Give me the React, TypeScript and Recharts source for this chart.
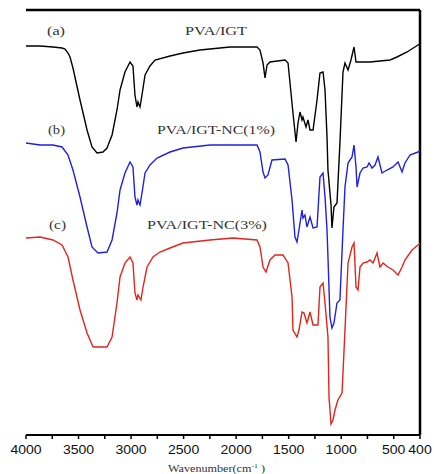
import React from "react";
import { LineChart, Line, XAxis, YAxis, ReferenceLine } from "recharts";

// wavenumber (cm-1) and transmittance (arbitrary units)
const wnA = [4000,3867,3743,3657,3629,3600,3581,3553,3486,3419,3372,3324,3267,3229,3181,3134,3105,3058,3010,2982,2963,2944,2934,2915,2896,2867,2820,2772,2629,2506,2344,2058,1801,1773,1744,1725,1706,1678,1535,1506,1459,1430,1411,1392,1373,1364,1335,1316,1297,1268,1230,1202,1173,1154,1135,1126,1097,1088,1069,1040,1012,983,964,935,907,878,859,821,726,535,469,373,269,250];
const tA = [389,389,388,387,386,382,378,367,335,305,288,282,283,287,300,325,345,363,373,369,340,328,333,328,340,360,369,375,379,382,385,388,388,385,372,357,370,373,375,372,322,293,312,323,315,318,308,315,305,305,335,362,363,345,298,265,230,207,228,232,292,363,372,365,375,388,373,373,373,375,378,383,390,391];

const wnB = [4000,3867,3743,3657,3600,3553,3486,3419,3372,3315,3229,3181,3134,3105,3058,3010,2982,2963,2944,2934,2915,2896,2867,2820,2753,2629,2506,2249,1801,1773,1744,1725,1697,1659,1535,1506,1468,1440,1421,1402,1373,1364,1345,1326,1297,1268,1230,1202,1173,1154,1135,1126,1107,1088,1069,1040,1012,983,964,935,897,878,859,849,821,792,754,735,707,678,650,612,564,507,459,421,393,345,269,250];
const tB = [292,290,290,288,280,265,238,208,188,182,183,195,222,245,262,273,268,238,230,235,230,242,262,270,277,283,287,290,290,283,263,257,260,275,276,270,235,198,193,205,225,217,220,208,218,207,208,258,262,238,205,178,118,107,112,132,135,205,248,272,278,290,268,248,262,267,268,272,267,270,278,262,265,268,273,263,272,280,283,284];

const wnC = [4000,3867,3743,3657,3600,3553,3486,3419,3362,3267,3229,3181,3134,3105,3058,3010,2982,2963,2944,2934,2906,2886,2848,2791,2725,2629,2506,2249,2030,1801,1773,1744,1716,1678,1630,1554,1506,1468,1459,1421,1402,1373,1354,1326,1297,1268,1221,1202,1173,1154,1126,1116,1097,1078,1059,1031,992,964,935,897,878,859,840,821,792,754,726,697,659,631,602,555,507,459,421,393,326,269,250];
const tC = [197,198,195,190,178,155,125,102,88,88,88,98,132,158,172,178,172,142,135,140,135,148,168,178,183,187,192,195,197,195,188,168,163,175,180,180,172,138,105,98,105,123,122,112,123,110,110,148,152,132,98,38,11,15,25,35,42,105,172,188,192,148,145,168,172,173,175,172,182,168,172,168,165,160,168,175,185,190,191];

const xTicks = [4000,3750,3500,3250,3000,2750,2500,2250,2000,1750,1500,1250,1000,750,500,250];
const tickLabels: Record<number, string> = {
  4000: "4000", 3500: "3500", 3000: "3000", 2500: "2500", 2000: "2000",
  1500: "1500", 1000: "1000", 500: "500", 250: "400",
};
const xDomain = [250, 4000];
const yDomain = [0, 425];

const toRows = (wn: number[], t: number[]) => wn.map((w, i) => ({ wn: w, t: t[i] }));
const dataA = toRows(wnA, tA);
const dataB = toRows(wnB, tB);
const dataC = toRows(wnC, tC);

const serif = "'Liberation Serif', 'Times New Roman', serif";

function WaveTick(props: any) {
  const { x, y, payload } = props;
  const label = tickLabels[payload.value];
  if (!label) return null;
  return (
    <text x={x} y={y + 13} textAnchor="middle" fontFamily="'Liberation Sans', Arial, sans-serif"
      fontSize={13} fill="#111" textLength={label.length * 7.8} lengthAdjust="spacingAndGlyphs">
      {label}
    </text>
  );
}

export default function App() {
  return (
    <div style={{ position: "absolute", left: 0, top: 0, width: 434, height: 474, background: "#fff" }}>
      <LineChart width={434} height={474} margin={{ top: 10, right: 14, left: 26, bottom: 9 }}>
        <XAxis dataKey="wn" type="number" domain={xDomain} reversed ticks={xTicks} interval={0}
          allowDataOverflow height={30} tickSize={4} tick={<WaveTick />}
          axisLine={{ stroke: "#000", strokeWidth: 2 }} tickLine={{ stroke: "#000", strokeWidth: 1.5 }} />
        <YAxis type="number" domain={yDomain} width={0} tick={false} tickLine={false}
          axisLine={{ stroke: "#000", strokeWidth: 2 }} />
        {/* frame: top and right borders */}
        <ReferenceLine y={yDomain[1]} stroke="#000" strokeWidth={2.5} ifOverflow="visible" />
        <ReferenceLine x={xDomain[0]} stroke="#000" strokeWidth={2.5} ifOverflow="visible" />
        <Line data={dataA} dataKey="t" stroke="#000000" strokeWidth={1.4} dot={false} isAnimationActive={false} />
        <Line data={dataB} dataKey="t" stroke="#2020e0" strokeWidth={1.4} dot={false} isAnimationActive={false} />
        <Line data={dataC} dataKey="t" stroke="#e0261c" strokeWidth={1.4} dot={false} isAnimationActive={false} />
      </LineChart>
      <svg width={434} height={474} style={{ position: "absolute", left: 0, top: 0, pointerEvents: "none" }}>
        <g fontFamily={serif} fontSize={13} fill="#333">
          <text x={47} y={35} textLength={18} lengthAdjust="spacingAndGlyphs">(a)</text>
          <text x={185} y={35} textLength={62} lengthAdjust="spacingAndGlyphs">PVA/IGT</text>
          <text x={48} y={134} textLength={17} lengthAdjust="spacingAndGlyphs">(b)</text>
          <text x={157} y={134} textLength={118} lengthAdjust="spacingAndGlyphs">PVA/IGT-NC(1%)</text>
          <text x={49} y={229} textLength={17} lengthAdjust="spacingAndGlyphs">(c)</text>
          <text x={147} y={229} textLength={120} lengthAdjust="spacingAndGlyphs">PVA/IGT-NC(3%)</text>
        </g>
        <text x={168} y={472} fontFamily={serif} fontSize={11} fill="#333" textLength={97} lengthAdjust="spacingAndGlyphs">
          Wavenumber(cm<tspan dy={-4} fontSize={7}>-1</tspan><tspan dy={4}> )</tspan>
        </text>
      </svg>
    </div>
  );
}
